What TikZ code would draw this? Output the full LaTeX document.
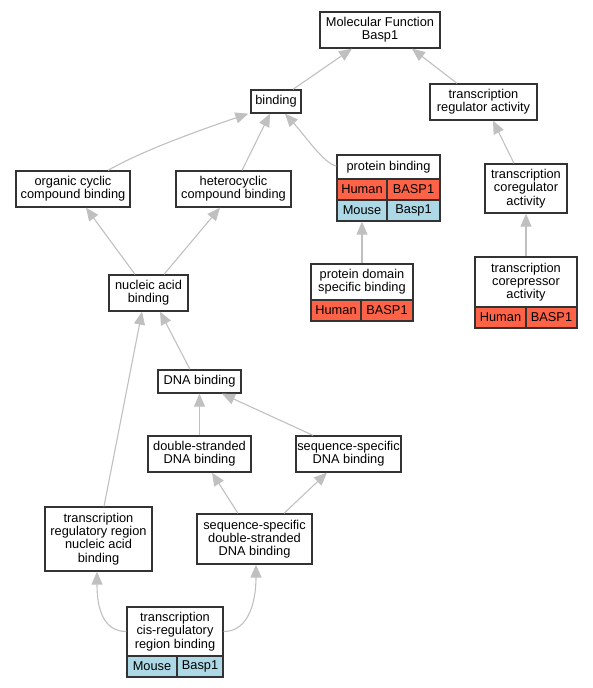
\documentclass[tikz,border=0pt]{standalone}
\usepackage{fontspec}
\setmainfont{Liberation Sans}
\usetikzlibrary{arrows.meta}
\definecolor{hum}{HTML}{FF6347}
\definecolor{mou}{HTML}{ADD8E6}
\definecolor{edgec}{HTML}{C0C0C0}
\definecolor{bord}{HTML}{333333}
\newcommand{\gbox}[7][box]{\node[#1,minimum width={(#4)-(#2)},minimum height={(#5)-(#3)}] (#6) at ({((#2)+(#4))/2},{((#3)+(#5))/2}) {#7};}
\begin{document}
\begin{tikzpicture}[x=1pt,y=-1pt,
 box/.style={draw=bord,line width=1.3pt,fill=white,inner sep=0pt,align=center,font=\fontsize{12.8}{13.3}\selectfont},
 cell/.style={draw=bord,line width=1.3pt,inner sep=0pt,font=\fontsize{12.8}{13.3}\selectfont},
 hcell/.style={cell,fill=hum},
 mcell/.style={cell,fill=mou},
 edge/.style={draw=edgec,line width=1.1pt,-{Triangle[length=13pt,width=11pt]}}]
\useasboundingbox (0,0) rectangle (592,688);
\gbox{320}{12}{440}{48}{mf}{Molecular Function\\Basp1}
\gbox{251}{90}{301}{113}{bind}{binding}
\gbox{430}{84}{537}{120}{tra}{transcription\\regulator activity}
\gbox{16}{171}{130}{207}{occb}{organic cyclic\\compound binding}
\gbox{176}{171}{291}{207}{hcb}{heterocyclic\\compound binding}
\gbox{337}{155}{440}{179}{pb}{protein binding}
\gbox[hcell]{337}{179}{387}{200}{pbh1}{Human}
\gbox[hcell]{387}{179}{440}{200}{pbh2}{BASP1}
\gbox[mcell]{337}{200}{387}{221}{pbm1}{Mouse}
\gbox[mcell]{387}{200}{440}{221}{pbm2}{Basp1}
\gbox{485}{164}{567}{213}{tca}{transcription\\coregulator\\activity}
\gbox{109}{275}{188}{311}{nab}{nucleic acid\\binding}
\gbox{311}{264}{413}{300}{pdsb}{protein domain\\specific binding}
\gbox[hcell]{311}{300}{361}{321}{pdh1}{Human}
\gbox[hcell]{361}{300}{413}{321}{pdh2}{BASP1}
\gbox{475}{257}{577}{307}{tcr}{transcription\\corepressor\\activity}
\gbox[hcell]{475}{307}{526}{328}{tch1}{Human}
\gbox[hcell]{526}{307}{577}{328}{tch2}{BASP1}
\gbox{158}{370}{241}{393}{dna}{DNA binding}
\gbox{148}{436}{251}{472}{ds}{double-stranded\\DNA binding}
\gbox{296}{436}{401}{472}{ss}{sequence-specific\\DNA binding}
\gbox{45}{507}{152}{571}{trr}{transcription\\regulatory region\\nucleic acid\\binding}
\gbox{197}{514}{312}{564}{ssds}{sequence-specific\\double-stranded\\DNA binding}
\gbox{127}{607}{223}{656}{cis}{transcription\\cis-regulatory\\region binding}
\gbox[mcell]{127}{656}{177}{677}{cism1}{Mouse}
\gbox[mcell]{177}{656}{223}{677}{cism2}{Basp1}
% edges
\draw[edge] ([xshift=17pt]bind.north) -- ([xshift=-28pt]mf.south);
\draw[edge] ([xshift=-26.5pt]tra.north) -- ([xshift=32pt]mf.south);
\draw[edge] ([xshift=35pt]occb.north) .. controls +(35,-20) and +(-50,17) .. ([xshift=-2pt]bind.south west);
\draw[edge] ([xshift=8.5pt]hcb.north) -- ([xshift=-6pt]bind.south);
\draw[edge] ([yshift=1pt]pb.west) .. controls +(-12,-2) and +(20,22) .. ([xshift=9pt]bind.south);
\draw[edge] ([xshift=-12pt]tca.north) -- ([xshift=9.5pt]tra.south);
\draw[edge] ([xshift=-13.5pt]nab.north) -- ([xshift=13pt]occb.south);
\draw[edge] ([xshift=15.5pt]nab.north) -- ([xshift=-13.5pt]hcb.south);
\draw[edge] (pdsb.north) -- (pbm1.south);
\draw[edge] (tcr.north) -- (tca.south);
\draw[edge] ([xshift=-9.5pt]dna.north) -- ([xshift=11.5pt]nab.south);
\draw[edge] ([xshift=5.5pt]trr.north) -- ([xshift=-6.5pt]nab.south);
\draw[edge] (ds.north) -- (dna.south);
\draw[edge] ([xshift=-35.5pt]ss.north) -- ([xshift=22.5pt]dna.south);
\draw[edge] ([xshift=-16.5pt]ssds.north) -- ([xshift=12.5pt]ds.south);
\draw[edge] ([xshift=29.5pt]ssds.north) -- ([xshift=-21.5pt]ss.south);
\draw[edge] (cis.west) .. controls +(-24,0) and +(0,35) .. ([xshift=-1.5pt]trr.south);
\draw[edge] (cis.east) .. controls +(26,0) and +(0,35) .. ([xshift=1.5pt]ssds.south);
\end{tikzpicture}
\end{document}
